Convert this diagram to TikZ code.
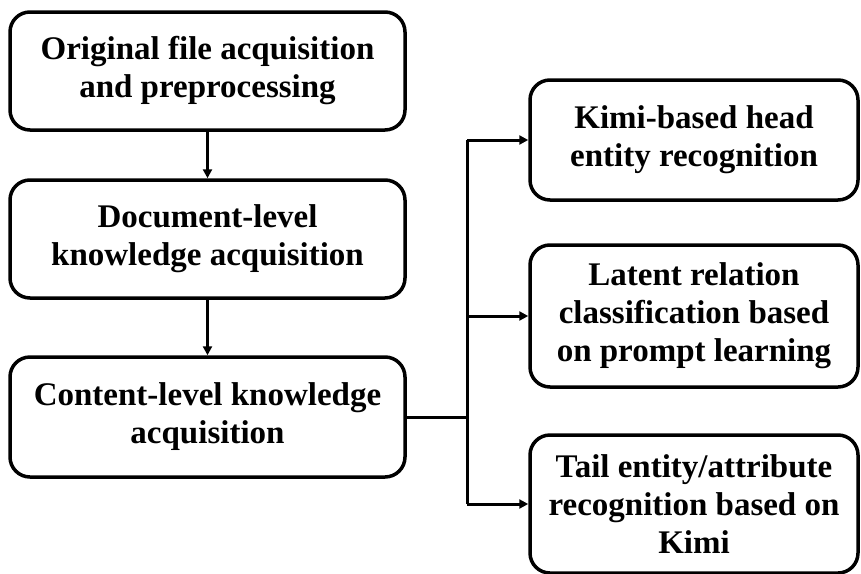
\documentclass[tikz,border=0pt]{standalone}
\usepackage{fontspec}
\setmainfont{Liberation Serif}
\usetikzlibrary{arrows.meta,positioning}
\tikzset{
  stage/.style={ % left column step
    draw, rectangle, rounded corners=20pt, line width=3.5pt,
    minimum width=395pt, minimum height=118pt, inner sep=0pt,
    align=center, text=black,
    font=\fontsize{33}{38}\selectfont\bfseries
  },
  subtask/.style={ % right column step
    stage, minimum width=328pt
  },
  link/.style={line width=3pt},
  flow/.style={link, -{Triangle[length=9pt,width=9pt]}}
}
\begin{document}
\begin{tikzpicture}[x=1pt,y=-1pt]
  \useasboundingbox (0,0) rectangle (861,573);

  % left column
  \node[stage] (orig) at (207.5,71) {Original file acquisition\\and preprocessing};
  \node[stage] (doclevel) at (207.5,239) {Document-level\\knowledge acquisition};
  \node[stage, minimum height=120pt] (contentlevel) at (207.5,417) {Content-level knowledge\\acquisition};

  % right column
  \node[subtask, minimum height=120pt] (headrec) at (694,140) {Kimi-based head\\entity recognition};
  \node[subtask, minimum height=142pt] (relcls) at (694,316) {Latent relation\\classification based\\on prompt learning};
  \node[subtask, minimum height=138pt] (tailrec) at (694,504) {Tail entity/attribute\\recognition based on\\Kimi};

  \coordinate (split) at (467,417);

  \draw[flow] (orig) -- (doclevel);
  \draw[flow] (doclevel) -- (contentlevel);
  \draw[link] (contentlevel.east) -- (split);
  \draw[link] (split |- headrec.west) -- (split |- tailrec.west);
  \draw[flow] (split |- headrec.west) -- (headrec.west);
  \draw[flow] (split |- relcls.west) -- (relcls.west);
  \draw[flow] (split |- tailrec.west) -- (tailrec.west);
\end{tikzpicture}
\end{document}
